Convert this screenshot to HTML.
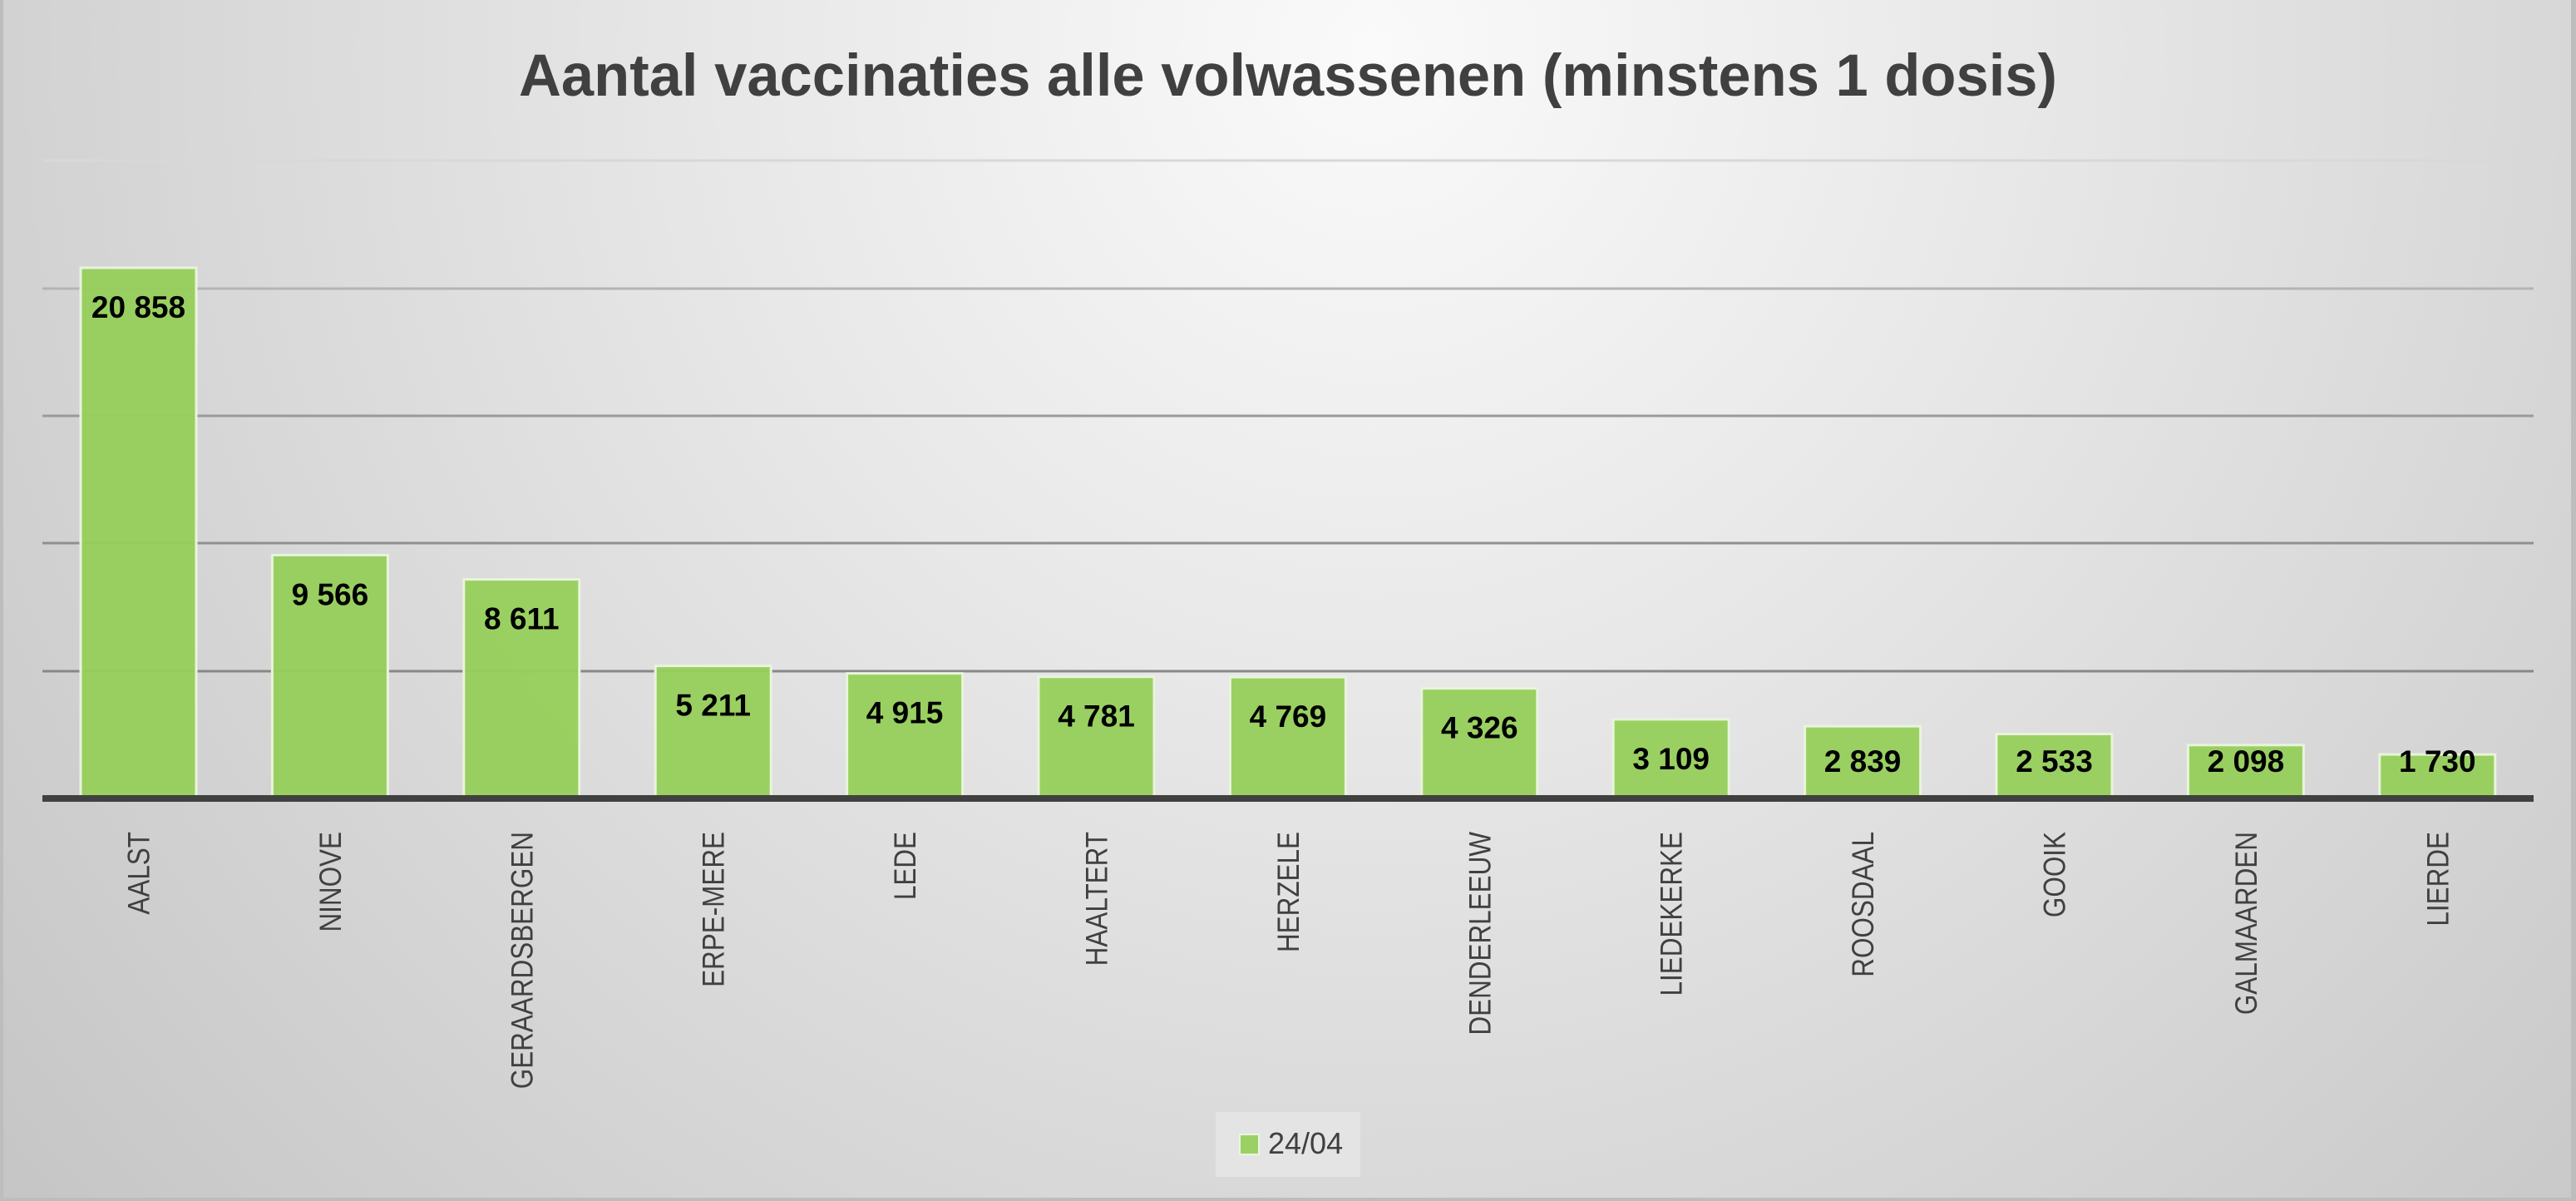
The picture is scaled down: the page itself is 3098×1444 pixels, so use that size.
<!DOCTYPE html>
<html><head><meta charset="utf-8"><style>html,body{margin:0;padding:0;}svg{display:block}</style></head>
<body>
<svg width="3098" height="1444" viewBox="0 0 3098 1444" xmlns="http://www.w3.org/2000/svg">
<defs>
<radialGradient id="bg" cx="1650" cy="60" r="2200" gradientUnits="userSpaceOnUse">
<stop offset="0" stop-color="#fafafa"/>
<stop offset="0.35" stop-color="#e8e8e8"/>
<stop offset="1" stop-color="#c4c4c4"/>
</radialGradient>
</defs>
<rect x="0" y="0" width="3098" height="1444" fill="#bdbdbd"/>
<rect x="4" y="0" width="3088" height="1440" fill="url(#bg)"/>
<text x="1549" y="115" text-anchor="middle" font-family="Liberation Sans, sans-serif" font-weight="bold" font-size="71" fill="#404040" textLength="1850" lengthAdjust="spacingAndGlyphs">Aantal vaccinaties alle volwassenen (minstens 1 dosis)</text>
<g stroke="#9a9a9a" stroke-width="3">
<line x1="51" y1="193" x2="3047" y2="193" stroke="#d8d8d8"/>
<line x1="51" y1="347" x2="3047" y2="347" stroke="#b4b4b4"/>
<line x1="51" y1="500" x2="3047" y2="500"/>
<line x1="51" y1="653" x2="3047" y2="653" stroke="#909090"/>
<line x1="51" y1="807" x2="3047" y2="807" stroke="#888"/>
</g>
<g id="bars" fill="#96cf5a" fill-opacity="0.95" stroke="#e8f4dc" stroke-width="3"></g>
<line x1="51" y1="960" x2="3047" y2="960" stroke="#404040" stroke-width="8"/>
<g id="labels"></g>
<rect x="1462" y="1337" width="174" height="78" fill="#e4e4e4"/>
<rect x="1491" y="1364" width="23" height="24" fill="#9bd064" stroke="#eaf5df" stroke-width="2"/>
<text x="1525" y="1387" font-family="Liberation Sans, sans-serif" font-size="36" fill="#404040">24/04</text>
<script>
(function(){
var names=["AALST","NINOVE","GERAARDSBERGEN","ERPE-MERE","LEDE","HAALTERT","HERZELE","DENDERLEEUW","LIEDEKERKE","ROOSDAAL","GOOIK","GALMAARDEN","LIERDE"];
var vals=[20858,9566,8611,5211,4915,4781,4769,4326,3109,2839,2533,2098,1730];
var ns="http://www.w3.org/2000/svg",b=document.getElementById("bars"),l=document.getElementById("labels");
for(var i=0;i<13;i++){
 var cx=166.5+i*230.4,h=vals[i]*0.03059,yt=960-h;
 var r=document.createElementNS(ns,"rect");
 r.setAttribute("x",cx-69.5);r.setAttribute("y",yt);r.setAttribute("width",139);r.setAttribute("height",h);
 b.appendChild(r);
 var t=document.createElementNS(ns,"text");
 t.setAttribute("x",cx);t.setAttribute("y",Math.min(yt+60,928));
 t.setAttribute("text-anchor","middle");t.setAttribute("font-family","Liberation Sans, sans-serif");
 t.setAttribute("font-weight","bold");t.setAttribute("font-size","37");t.setAttribute("fill","#000");
 t.textContent=vals[i].toString().replace(/\B(?=(\d{3})+(?!\d))/g," ");
 l.appendChild(t);
 var n=document.createElementNS(ns,"text");
 n.setAttribute("text-anchor","end");n.setAttribute("font-family","Liberation Sans, sans-serif");
 n.setAttribute("font-size","37");n.setAttribute("fill","#404040");
 n.setAttribute("transform","translate("+(cx+13)+",1000) rotate(-90) scale(0.85,1)");
 n.textContent=names[i];
 l.appendChild(n);
}
})();
</script>
</svg>
</body></html>
